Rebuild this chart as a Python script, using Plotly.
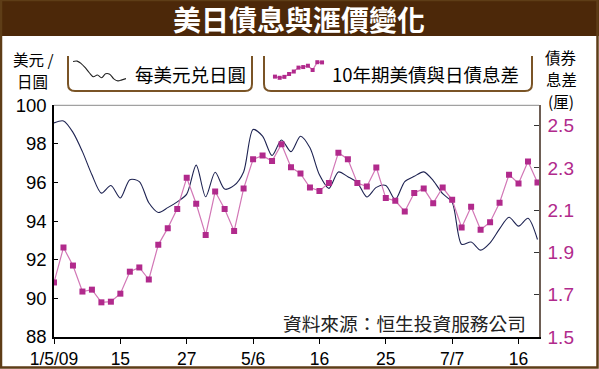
import plotly.graph_objects as go

W, H = 599, 369

# ---------------- data ----------------
tick_pos = [0, 7, 14, 21, 28, 35, 42, 49]
tick_labels = ["1/5/09", "15", "27", "5/6", "16", "25", "7/7", "16"]

usdjpy = [99.09, 99.19, 98.6, 97.6, 96.4, 95.45, 95.85, 95.2, 96.15, 96.05,
          94.95, 94.45, 94.7, 95.0, 95.4, 96.9, 95.26, 96.53, 95.66, 95.85,
          96.55, 98.75, 98.4, 97.4, 98.2, 97.6, 98.4, 97.8, 96.4, 95.7,
          96.55, 96.3, 96.0, 95.25, 95.75, 95.85, 95.12, 96.05, 96.32, 96.55,
          96.1, 95.42, 94.98, 92.8, 92.92, 92.5, 92.88, 93.6, 94.2, 93.74,
          94.15, 93.05]

spread = [1.758, 1.923, 1.838, 1.715, 1.724, 1.664, 1.667, 1.705, 1.809, 1.829,
          1.772, 1.936, 2.015, 2.106, 2.253, 2.130, 1.982, 2.188, 2.106, 2.001,
          2.202, 2.341, 2.358, 2.332, 2.412, 2.303, 2.273, 2.207, 2.191, 2.229,
          2.372, 2.341, 2.228, 2.212, 2.302, 2.157, 2.144, 2.094, 2.181, 2.202,
          2.133, 2.207, 2.149, 2.018, 2.116, 2.007, 2.043, 2.135, 2.268, 2.226,
          2.330, 2.231]

left_ticks = [88, 90, 92, 94, 96, 98, 100]
right_ticks = [1.5, 1.7, 1.9, 2.1, 2.3, 2.5]

idx = list(range(len(usdjpy)))

# ---------------- helpers ----------------
def px(x):
    return x / W

def py(y):
    return 1 - y / H

NAVY = "#1e2352"
MAG = "#b12a8c"
PINK = "#d277b6"
BROWN = "#4c2809"
BORDER = "#5e3d17"
CJK = "Noto Sans CJK TC"
LAT = "Liberation Sans"

fig = go.Figure()

fig.add_trace(go.Scatter(
    x=idx, y=spread, mode="lines+markers", yaxis="y2",
    line=dict(color=PINK, width=1.2),
    marker=dict(symbol="square", size=6, color=MAG),
    showlegend=False, hoverinfo="skip"))

fig.add_trace(go.Scatter(
    x=idx, y=usdjpy, mode="lines",
    line=dict(color=NAVY, width=1.1, shape="spline", smoothing=0.8),
    showlegend=False, hoverinfo="skip"))

# legend sample icons (drawn from the series themselves)
s1 = usdjpy[0:14]
fig.add_trace(go.Scatter(
    x=list(range(len(s1))), y=s1, mode="lines", xaxis="x3", yaxis="y3",
    line=dict(color="#222222", width=1.1, shape="spline"),
    showlegend=False, hoverinfo="skip"))
s2 = spread[3:25:2]
fig.add_trace(go.Scatter(
    x=list(range(len(s2))), y=s2, mode="lines+markers", xaxis="x4", yaxis="y4",
    line=dict(color=PINK, width=1.2),
    marker=dict(symbol="square", size=4, color=MAG),
    showlegend=False, hoverinfo="skip"))

shapes = []
# title bar
shapes.append(dict(type="rect", xref="paper", yref="paper",
                   x0=0, x1=1, y0=py(36), y1=1,
                   fillcolor=BROWN, line=dict(width=0), layer="below"))
# outer border
shapes.append(dict(type="rect", xref="paper", yref="paper",
                   x0=px(1), x1=px(597.5), y0=py(367.5), y1=1,
                   fillcolor="rgba(0,0,0,0)", line=dict(color=BORDER, width=2.5)))
# plot top line
shapes.append(dict(type="line", xref="paper", yref="paper",
                   x0=px(54), x1=px(539), y0=py(105.3), y1=py(105.3),
                   line=dict(color="#8a8a8a", width=1)))

# legend brackets
def bracket(x0, x1, top, bot, r=7):
    return ("M {a},{t} L {a},{b1} Q {a},{b} {a2},{b} L {c2},{b} Q {c},{b} {c},{b1} L {c},{t}"
            .format(a=px(x0), t=py(top), b1=py(bot - r), b=py(bot),
                    a2=px(x0 + r), c2=px(x1 - r), c=px(x1)))

for (x0, x1) in [(68, 252), (264, 532)]:
    shapes.append(dict(type="path", xref="paper", yref="paper",
                       path=bracket(x0, x1, 56, 91),
                       line=dict(color="#7a5426", width=2)))

annotations = []
def txt(t, x, y, size, color="black", family=CJK, xanchor="center"):
    annotations.append(dict(text=t, x=px(x), y=py(y), xref="paper", yref="paper",
                            showarrow=False, xanchor=xanchor, yanchor="middle",
                            font=dict(family=family, size=size, color=color)))

txt("<b>美日債息與滙價變化</b>", 299, 19, 28, "white")
txt("美元 /", 33, 59, 15.5)
txt("日圓", 32, 81, 15.5)
txt("債券", 561, 57, 15.5)
txt("息差", 561, 79, 15.5)
txt("(厘)", 561, 101, 15.5)
txt("每美元兑日圓", 190, 74, 18.5)
txt("10年期美債與日債息差", 425.5, 74, 18.5)
txt("資料來源：恒生投資服務公司", 404.5, 322, 18.7, "#222222")

fig.update_layout(
    width=W, height=H,
    margin=dict(l=0, r=0, t=0, b=0, autoexpand=False),
    paper_bgcolor="white", plot_bgcolor="white",
    showlegend=False,
    shapes=shapes, annotations=annotations,
    xaxis=dict(domain=[px(54), px(539)], range=[0, 51.16],
               tickmode="array", tickvals=tick_pos, ticktext=tick_labels,
               ticks="outside", ticklen=5, tickcolor="black", tickwidth=1.2,
               showline=True, linecolor="black", linewidth=1.5,
               showgrid=False, zeroline=False, automargin=False,
               tickfont=dict(family=LAT, size=17.5, color="black"),
               anchor="y", fixedrange=True),
    yaxis=dict(domain=[py(337), py(105.3)], range=[88, 100],
               tickmode="array", tickvals=left_ticks,
               ticks="inside", ticklen=4, tickcolor="black", tickwidth=1.2,
               showline=True, linecolor="black", linewidth=1.5,
               showgrid=False, zeroline=False, automargin=False,
               tickfont=dict(family=LAT, size=18.5, color="black"),
               ticklabelstandoff=2,
               anchor="x", fixedrange=True),
    yaxis2=dict(overlaying="y", side="right", range=[1.5, 2.596],
                tickmode="array", tickvals=right_ticks,
                ticktext=["%.1f" % v for v in right_ticks],
                ticks="inside", ticklen=5, tickcolor="#333333", tickwidth=1.2,
                showline=True, linecolor="#6e5e55", linewidth=1.5,
                showgrid=False, zeroline=False, automargin=False,
                tickfont=dict(family=LAT, size=19, color=MAG),
                ticklabelstandoff=3,
                anchor="x", fixedrange=True),
    xaxis3=dict(domain=[px(73), px(126)], visible=False, anchor="y3", fixedrange=True),
    yaxis3=dict(domain=[py(82), py(60)], visible=False, anchor="x3", fixedrange=True),
    xaxis4=dict(domain=[px(269), px(328)], visible=False, anchor="y4", fixedrange=True),
    yaxis4=dict(domain=[py(82), py(58)], visible=False, anchor="x4", fixedrange=True),
)

fig.write_html(
    "out.html",
    config={"displayModeBar": False},
    post_script="document.body.style.margin='0';document.body.style.overflow='hidden';",
)
